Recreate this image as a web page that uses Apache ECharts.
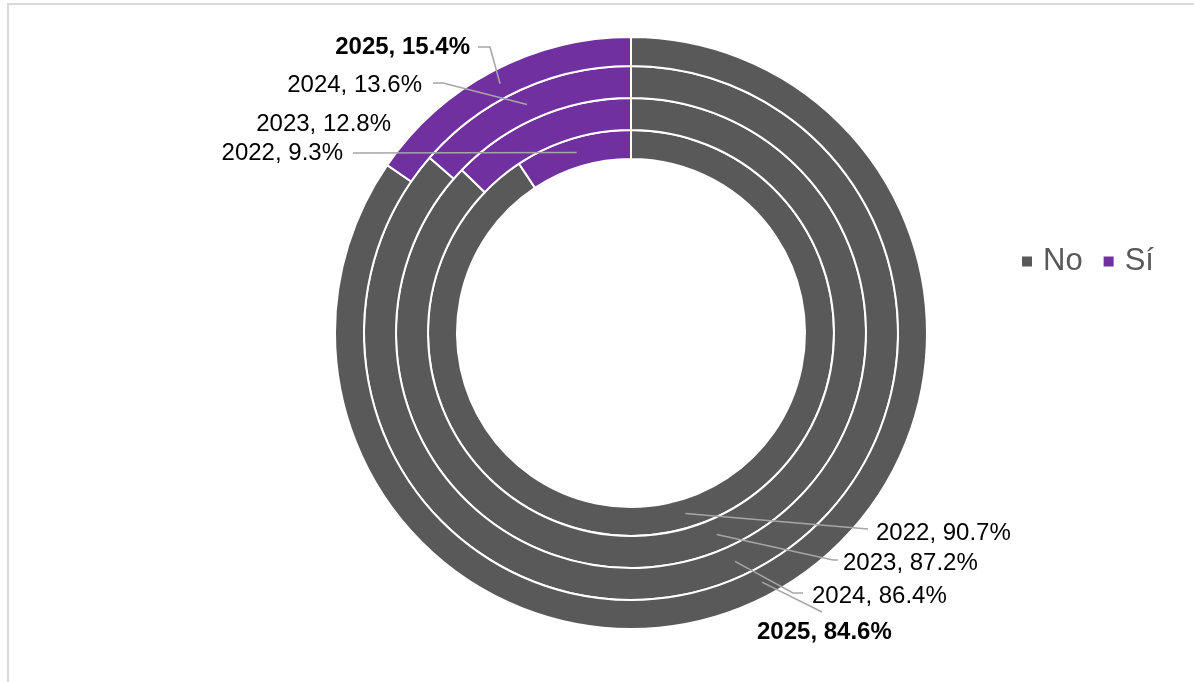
<!DOCTYPE html>
<html><head><meta charset="utf-8">
<script src="https://cdn.jsdelivr.net/npm/echarts@6/dist/echarts.min.js"></script>
<style>
html,body{margin:0;padding:0;background:#fff;overflow:hidden}
#frame{position:absolute;left:7px;top:3px;width:1400px;height:900px;border-left:2px solid #D9D9D9;border-top:2px solid #D9D9D9;box-sizing:border-box}
#chart{position:absolute;left:0;top:0;width:1194px;height:682px}
</style></head><body>
<div id="frame"></div><div id="chart"></div>
<script>
const years = ['2022', '2023', '2024', '2025'];
const categories = ['No', 'Sí'];
const noValues = [90.7, 87.2, 86.4, 84.6];
const siValues = [9.3, 12.8, 13.6, 15.4];
const colors = ['#595959', '#7030A0'];

const CENTER = [631, 333];
const RING_RADII = [[174, 203], [203, 235], [235, 267], [267, 296]];
// label placement (layout only): per year, [No, Sí]
const LABEL_LAYOUT = {
  '2022': [{x: 876, y: 533, align: 'left', line: [[868, 529]]},
           {x: 343, y: 153, align: 'right', line: [[353, 153]]}],
  '2023': [{x: 843, y: 563, align: 'left', line: [[833, 560], [838, 560]]},
           {x: 391, y: 124, align: 'right', line: null}],
  '2024': [{x: 812, y: 596, align: 'left', line: [[793, 593], [803, 593]]},
           {x: 422, y: 85, align: 'right', line: [[443, 83], [433, 83]]}],
  '2025': [{x: 757, y: 632, align: 'left', line: [[822, 612]]},
           {x: 470, y: 47, align: 'right', line: [[490, 47], [478, 47]]}]
};

function ringMidPoint(si, di) {
  const vals = [noValues[si], siValues[si]];
  const total = vals[0] + vals[1];
  let cum = 0;
  for (let k = 0; k < di; k++) cum += vals[k];
  const frac = (cum + vals[di] / 2) / total;
  const ang = (90 - frac * 360) * Math.PI / 180;
  const r = (RING_RADII[si][0] + RING_RADII[si][1]) / 2;
  return [CENTER[0] + r * Math.cos(ang), CENTER[1] - r * Math.sin(ang)];
}

const FONT = 'Liberation Sans, Arial, sans-serif';
const chart = echarts.init(document.getElementById('chart'), null, {renderer: 'canvas'});

// ring sectors
const ringSeries = years.map((y, si) => ({
  type: 'pie',
  name: y,
  z: 2,
  center: CENTER,
  radius: RING_RADII[si],
  startAngle: 90,
  clockwise: true,
  silent: true,
  itemStyle: {borderColor: '#ffffff', borderWidth: 2},
  label: {show: false},
  labelLine: {show: false},
  data: categories.map((c, di) => ({
    name: c,
    value: di === 0 ? noValues[si] : siValues[si],
    itemStyle: {color: colors[di]}
  }))
}));

// transparent overlay carrying the data labels and leader lines (drawn above all rings)
const labelSeries = years.map((y, si) => ({
  type: 'pie',
  name: y,
  z: 5,
  center: CENTER,
  radius: RING_RADII[si],
  startAngle: 90,
  clockwise: true,
  silent: true,
  legendHoverLink: false,
  avoidLabelOverlap: false,
  itemStyle: {color: 'rgba(0,0,0,0)', borderWidth: 0},
  label: {
    show: true,
    position: 'outside',
    fontFamily: FONT,
    fontSize: 24,
    color: '#000000',
    fontWeight: y === '2025' ? 'bold' : 'normal',
    formatter: p => years[si] + ', ' + p.value.toFixed(1) + '%'
  },
  labelLine: {show: true, lineStyle: {color: '#A6A6A6', width: 1.5}},
  labelLayout: function (params) {
    const lay = LABEL_LAYOUT[years[si]][params.dataIndex];
    const out = {x: lay.x, y: lay.y, align: lay.align, verticalAlign: 'middle'};
    if (lay.line) {
      out.labelLinePoints = [ringMidPoint(si, params.dataIndex)].concat(lay.line);
    }
    return out;
  },
  data: categories.map((c, di) => ({
    name: c + '_lbl',
    value: di === 0 ? noValues[si] : siValues[si],
    labelLine: {show: !!LABEL_LAYOUT[y][di].line}
  }))
}));

chart.setOption({
  animation: false,
  backgroundColor: 'transparent',
  legend: {
    data: categories,
    left: 1020,
    top: 246,
    padding: 0,
    orient: 'horizontal',
    icon: 'rect',
    itemWidth: 12,
    itemHeight: 12,
    itemGap: 19,
    textStyle: {fontFamily: FONT, fontSize: 31, color: '#595959', padding: [0, 0, 0, 5]}
  },
  series: ringSeries.concat(labelSeries)
});
</script>
</body></html>
